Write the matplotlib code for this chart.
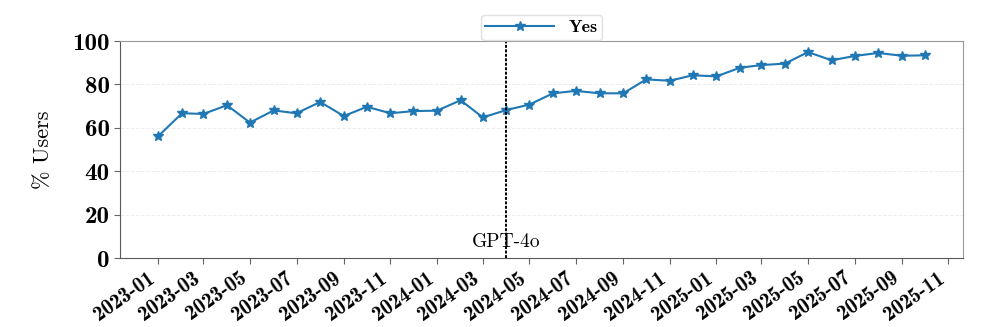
#!/usr/bin/env python3
"""Monthly share of users answering 'Yes', with the GPT-4o release marked."""

import matplotlib

matplotlib.use("Agg")
import matplotlib.dates as mdates
import matplotlib.pyplot as plt
import pandas as pd

# Data
months = pd.date_range("2023-01-01", periods=34, freq="MS")
yes_pct = [
    56.2, 66.7, 66.4, 70.4, 62.4, 68.0, 66.7, 71.9, 65.4, 69.7, 66.7, 67.7,
    67.9, 72.7, 64.8, 68.2, 70.7, 75.9, 77.0, 75.9, 75.9, 82.3, 81.7, 84.2,
    83.7, 87.7, 88.9, 89.6, 94.9, 91.1, 93.1, 94.5, 93.2, 93.4,
]
release_date = pd.Timestamp("2024-04-01")
release_label = "GPT-4o"
y_ticks = [0, 20, 40, 60, 80, 100]

BOLD = "cmb10"
ROMAN = "cmr10"

fig = plt.figure(figsize=(9.96, 3.27), dpi=100)
ax = fig.add_axes([0.1205, 0.211, 0.8465, 0.6636])

ax.plot(months, yes_pct, "-", marker="*", color="#1f77b4", lw=1.5, ms=7, label="Yes")
ax.axvline(release_date, color="black", ls=(0, (1.5, 0.8)), lw=1.4)
ax.text(release_date, 7.5, release_label, ha="center", va="center",
        family=ROMAN, fontsize=14)

# Axes, ticks
ax.set_ylim(0, 100)
ax.set_yticks(y_ticks)
ax.set_yticklabels([str(t) for t in y_ticks], family=BOLD, fontsize=18)
ax.xaxis.set_major_locator(mdates.MonthLocator(bymonth=range(1, 13, 2)))
ax.xaxis.set_major_formatter(mdates.DateFormatter("%Y-%m"))
for lbl in ax.get_xticklabels():
    lbl.set_family(BOLD)
    lbl.set_fontsize(15)
    lbl.set_rotation(35)
    lbl.set_ha("right")
ax.set_ylabel("% Users", family=ROMAN, fontsize=16, labelpad=14)

ax.grid(axis="y", ls="--", color="0.93", lw=0.7)
ax.tick_params(axis="both", length=4, color="0.4")
for side in ("left", "bottom"):
    ax.spines[side].set_color("0.35")
for side in ("top", "right"):
    ax.spines[side].set_color("0.6")

ax.legend(loc="upper center", bbox_to_anchor=(0.5, 1.16), handlelength=3.8,
          prop={"family": BOLD, "size": 13}, edgecolor="0.85", borderpad=0.25)

fig.savefig("out.png", dpi=100)
